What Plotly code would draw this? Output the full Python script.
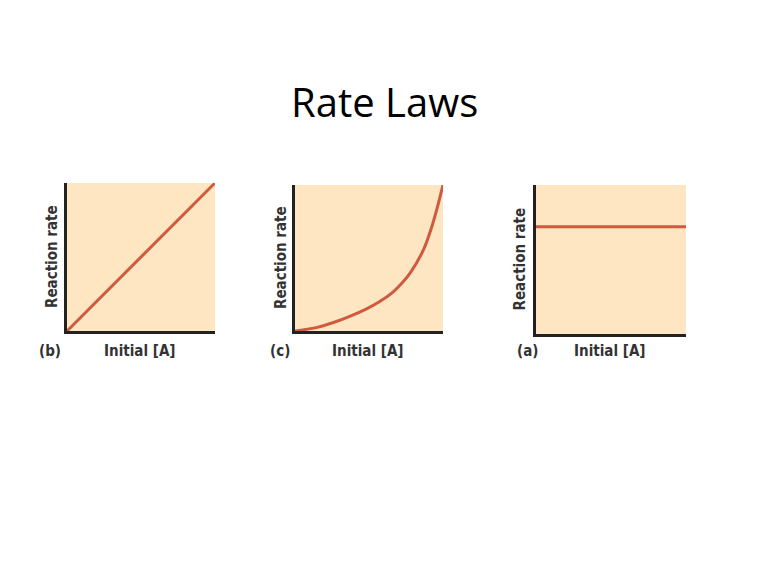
import plotly.graph_objects as go

# Data
title_text = "Rate Laws"
panel_labels = ["(b)", "(c)", "(a)"]
x_label = "Initial [A]"
y_label = "Reaction rate"

b_x = [0.0, 1.0]
b_y = [0.0, 1.0]

c_x = [0.0, 0.15, 0.26, 0.37, 0.48, 0.57, 0.66, 0.72, 0.78, 0.87, 0.92, 0.96, 1.0]
c_y = [0.0, 0.025, 0.058, 0.1, 0.15, 0.2, 0.265, 0.325, 0.4, 0.56, 0.7, 0.84, 1.0]

a_x = [0.0, 1.0]
a_y = [0.72, 0.72]

W, H = 768, 576
def px(x):
    return x / W
def py(y):
    return 1 - y / H

domains = [
    ((67, 215), (183, 331)),
    ((295, 443), (185, 331)),
    ((536, 686), (185, 334)),
]
series = [(b_x, b_y), (c_x, c_y), (a_x, a_y)]
ylabel_x = [52, 281, 520]
plabel_x = [50, 280, 527]
xlabel_x = [140, 368, 610]

line_color = "#cf5a3e"
bg = "#fee6c3"
font_lbl = dict(family="DejaVu Sans Condensed, Liberation Sans Narrow, Arial", size=15, color="#333333")

fig = go.Figure()
for i, ((xs, ys), ((x0, x1), (y0, y1))) in enumerate(zip(series, domains)):
    n = "" if i == 0 else str(i + 1)
    fig.add_trace(go.Scatter(x=xs, y=ys, mode="lines", line=dict(color=line_color, width=3, shape="spline", smoothing=0.8),
                             xaxis="x" + n, yaxis="y" + n, showlegend=False, hoverinfo="skip"))
    ax = dict(domain=[px(x0), px(x1)], range=[0, 1], showgrid=False, zeroline=False, showticklabels=False,
              ticks="", showline=True, linecolor="#222222", linewidth=3, fixedrange=True)
    ay = dict(domain=[py(y1), py(y0)], range=[0, 1], showgrid=False, zeroline=False, showticklabels=False,
              ticks="", showline=True, linecolor="#222222", linewidth=3, fixedrange=True)
    ax["anchor"] = "y" + n
    ay["anchor"] = "x" + n
    fig.update_layout(**{"xaxis" + n: ax, "yaxis" + n: ay})
    yc = (y0 + y1) / 2
    fig.add_annotation(x=px(ylabel_x[i]), y=py(yc), xref="paper", yref="paper", text="<b>" + y_label + "</b>",
                       textangle=-90, showarrow=False, font=font_lbl, xanchor="center", yanchor="middle")
    fig.add_annotation(x=px(plabel_x[i]), y=py(351), xref="paper", yref="paper", text="<b>" + panel_labels[i] + "</b>",
                       showarrow=False, font=font_lbl, xanchor="center", yanchor="middle")
    fig.add_annotation(x=px(xlabel_x[i]), y=py(351), xref="paper", yref="paper", text="<b>" + x_label + "</b>",
                       showarrow=False, font=font_lbl, xanchor="center", yanchor="middle")

fig.add_annotation(x=0.5, y=py(101), xref="paper", yref="paper", text=title_text, showarrow=False,
                   font=dict(family="Open Sans, Lato, Arial", size=40, color="#000000"), xanchor="center", yanchor="middle")

fig.update_layout(width=W, height=H, margin=dict(l=0, r=0, t=0, b=0), plot_bgcolor=bg, paper_bgcolor="white")
fig.write_html("out.html")
